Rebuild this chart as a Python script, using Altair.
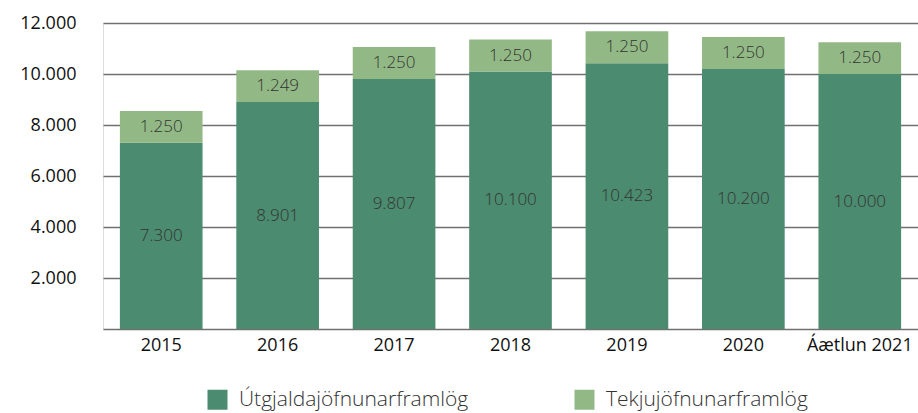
import altair as alt
import pandas as pd

years = ["2015", "2016", "2017", "2018", "2019", "2020", "Áætlun 2021"]
utgjalda = [7300, 8901, 9807, 10100, 10423, 10200, 10000]
tekju = [1250, 1249, 1250, 1250, 1250, 1250, 1250]
series = ["Útgjaldajöfnunarframlög", "Tekjujöfnunarframlög"]
colors = ["#4b8b6f", "#92b985"]

rows = []
for i, y in enumerate(years):
    rows.append({"year": y, "series": series[0], "value": utgjalda[i], "ord": 0})
    rows.append({"year": y, "series": series[1], "value": tekju[i], "ord": 1})
df = pd.DataFrame(rows)

base = alt.Chart(df).transform_stack(
    stack="value", groupby=["year"], as_=["y0", "y1"], sort=[alt.SortField("ord", order="ascending")]
).transform_calculate(
    mid="(datum.y0 + datum.y1) / 2",
    label="replace(format(datum.value, ','), ',', '.')"
)

x = alt.X("year:N", sort=years, title=None,
          scale=alt.Scale(paddingInner=0.29, paddingOuter=0.145),
          axis=alt.Axis(labelAngle=0, labelFont="Open Sans", labelFontSize=18, labelColor="#111",
                        ticks=False, domain=False, labelPadding=7))

bars = base.mark_bar().encode(
    x=x,
    y=alt.Y("y0:Q", title=None, scale=alt.Scale(domain=[0, 12000], nice=False),
            axis=alt.Axis(values=[0, 2000, 4000, 6000, 8000, 10000, 12000],
                          labelExpr="datum.value == 0 ? '' : replace(format(datum.value, ','), ',', '.')",
                          labelFont="Open Sans", labelFontSize=18, labelColor="#111",
                          ticks=False, domain=False, labelPadding=27,
                          grid=True, gridColor="#707070", gridWidth=1.3)),
    y2="y1:Q",
    color=alt.Color("series:N", scale=alt.Scale(domain=series, range=colors), title=None,
                    legend=alt.Legend(orient="none", legendX=104, legendY=366, direction="horizontal",
                                      symbolType="square", symbolSize=400, symbolStrokeWidth=0,
                                      symbolOpacity=1, labelFont="Open Sans", labelFontWeight=300,
                                      labelFontSize=21, labelColor="#333", columnPadding=105,
                                      labelOffset=11, labelLimit=0, padding=0)),
    order=alt.Order("ord:Q")
)

text = base.mark_text(font="Open Sans", fontWeight=300, fontSize=17, color="#333", baseline="middle").encode(
    x=alt.X("year:N", sort=years),
    y=alt.Y("mid:Q"),
    text="label:N"
)

chart = alt.layer(bars, text).properties(
    width=815, height=306,
    autosize=alt.AutoSizeParams(type="none"),
    padding={"left": 103, "top": 23, "right": 0, "bottom": 84}
).configure_view(stroke=None).configure(background="white")

chart.save("out.html", embed_options={"renderer": "svg", "actions": False})
